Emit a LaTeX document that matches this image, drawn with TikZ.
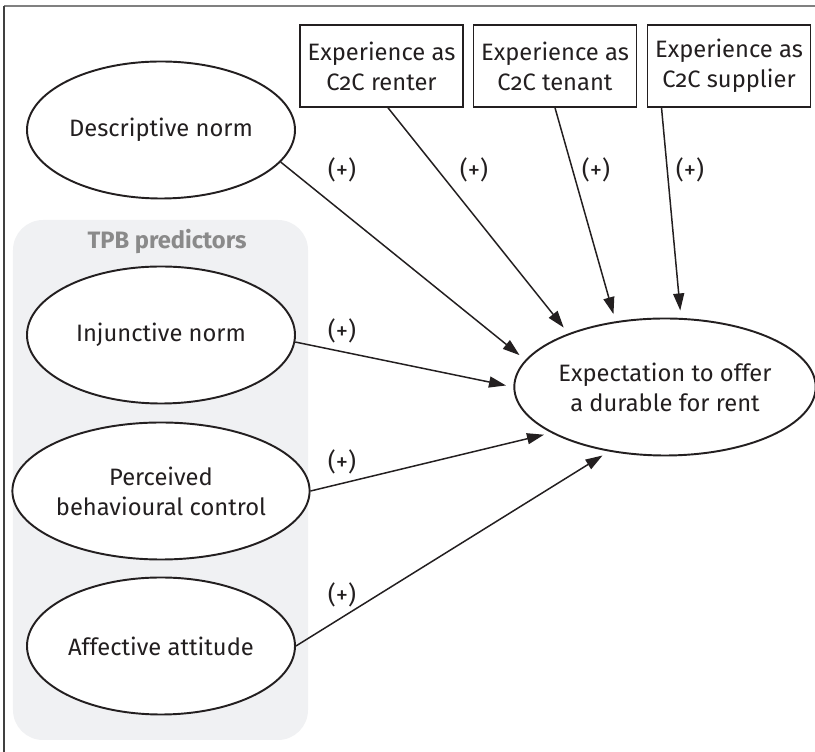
\documentclass[tikz,border=0pt]{standalone}
\usepackage{fontspec}
\setmainfont{Fira Sans}[Numbers=OldStyle]
\usetikzlibrary{positioning,arrows.meta,shapes.geometric,calc}

\definecolor{inkBlack}{HTML}{231F20}
\definecolor{panelGrey}{HTML}{F0F1F3}
\definecolor{labelGrey}{HTML}{8A8A8A}

\begin{document}
\begin{tikzpicture}
  \newdimen\dist
  \dist=0.15cm

  \tikzstyle{construct} = [
    % The shape:
    ellipse, minimum width=5.36cm, minimum height=2.74cm, inner sep=0pt,
    % The border:
    line width=1.1pt,
    draw=inkBlack,
    % The filling:
    fill=white,
    % Font:
    align=center, text=inkBlack,
    font=\fontsize{13.5}{17}\selectfont
  ];
  \tikzstyle{experience} = [
    % The shape:
    rectangle, minimum width=3.26cm, minimum height=1.64cm, inner sep=0pt,
    % The border:
    line width=0.9pt,
    draw=inkBlack,
    % Font:
    align=center, text=inkBlack,
    font=\fontsize{13.5}{17}\selectfont
  ];
  \tikzstyle{sign} = [
    % Just text!
    text=inkBlack,
    font=\fontsize{14}{17}\selectfont
  ];
  \tikzstyle{predictorArea} = [
    fill=panelGrey,
    rounded corners=0.6cm
  ];
  \tikzstyle{flow} = [
    draw=inkBlack,
    line width=0.85pt,
    shorten >=\dist,
    -{Triangle[length=0.34cm,width=0.22cm]}
  ];

  \useasboundingbox (0,0) rectangle (16.3,15.04);

  % frame
  \draw [gray, line width=0.6pt] (0.08,14.92) -- (16.3,14.92);
  \draw [black!75, line width=0.6pt] (0.08,14.92) -- (0.08,0);

  % TPB predictors
  \path [predictorArea] (0.26,0.24) rectangle (6.16,10.64);
  \node [text=labelGrey, font=\fontsize{13.5}{17}\selectfont\bfseries]
        (tpbLabel) at (3.34,10.2) {TPB predictors};

  \node [construct] (desc) at (3.22,12.44) {Descriptive norm};
  \node [construct, on grid, below = 4.1cm of desc] (inj) {Injunctive norm};
  \node [construct, on grid, below = 3.12cm of inj] (perc) {Perceived\\behavioural control};
  \node [construct, on grid, below = 3.1cm of perc] (aff) {Affective attitude};

  \node [construct, minimum width=5.3cm] (expect) at (13.3,7.3)
        {Expectation to offer\\a durable for rent};

  \node [experience] (renter) at (7.63,13.72) {Experience as\\C2C renter};
  \node [experience, on grid, right = 3.47cm of renter] (tenant) {Experience as\\C2C tenant};
  \node [experience, on grid, right = 3.48cm of tenant] (supplier) {Experience as\\C2C supplier};

  \path [flow] (desc.-15) to (expect.169);
  \path [flow] ([xshift=0.13cm]renter.south) to (expect.151);
  \path [flow] (tenant.south) to (expect.127);
  \path [flow] ($(supplier.south west)!0.09!(supplier.south east)$) to (expect.77);
  \path [flow] (inj.-3) to (expect.180);
  \path [flow] (perc.east) to (expect.202);
  \path [flow] (aff.east) to (expect.229);

  \node [sign] (descSign) at (6.84,11.64) {(+)};
  \node [sign] (renterSign) at (9.48,11.64) {(+)};
  \node [sign] (tenantSign) at (11.92,11.64) {(+)};
  \node [sign] (supplierSign) at (13.80,11.64) {(+)};
  \node [sign] (injSign) at (6.84,8.42) {(+)};
  \node [sign] (percSign) at (6.84,5.80) {(+)};
  \node [sign] (affSign) at (6.84,3.14) {(+)};
\end{tikzpicture}
\end{document}
